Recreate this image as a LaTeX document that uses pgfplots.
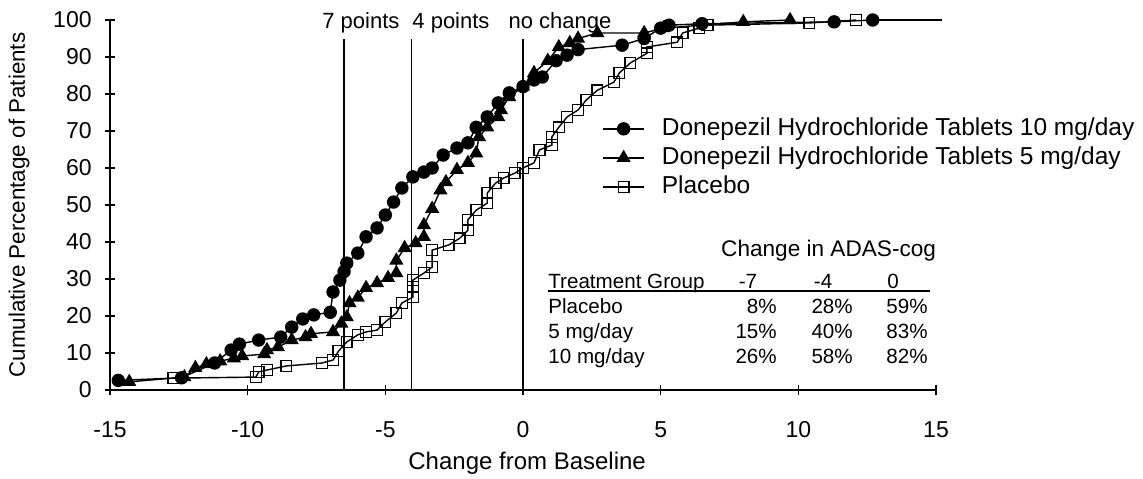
\documentclass[border=0pt]{standalone}
\usepackage{fontspec}
\setmainfont{Liberation Sans}
\usepackage{pgfplots}
\pgfplotsset{compat=1.18}

% cumulative distributions
\pgfplotstableread{
x y
-14.7 2.6
-12.4 3.3
-11.2 7.3
-10.6 10.8
-10.3 12.4
-9.6 13.5
-8.8 14.3
-8.4 17.0
-8.0 19.2
-7.6 20.3
-7.0 21.0
-6.9 26.5
-6.65 29.7
-6.5 32.0
-6.4 34.3
-6.0 37.0
-5.7 41.4
-5.3 43.8
-5.0 47.3
-4.7 50.8
-4.4 54.6
-4.0 57.6
-3.6 58.9
-3.3 60.0
-2.9 63.5
-2.4 65.4
-2.0 66.8
-1.7 71.0
-1.3 73.8
-0.9 77.6
-0.5 80.3
0.0 82.0
0.4 83.8
0.7 84.6
1.2 89.0
1.6 90.5
2.0 92.0
3.6 93.2
4.4 95.0
5.0 97.8
5.3 98.6
6.5 99.0
11.3 99.5
12.7 100
}\tenmg

\pgfplotstableread{
x y
-14.3 2.2
-12.3 3.5
-11.9 6.0
-11.5 7.0
-11.0 7.8
-10.5 8.6
-10.2 9.2
-9.4 9.7
-9.3 10.8
-8.9 11.6
-8.4 13.5
-7.9 14.3
-7.7 15.2
-6.9 15.7
-6.6 18.0
-6.4 19.7
-6.3 23.5
-6.0 25.0
-5.7 27.6
-5.3 28.9
-4.9 30.3
-4.6 31.6
-4.6 35.0
-4.3 38.4
-3.9 39.7
-3.6 41.4
-3.6 44.6
-3.3 49.0
-3.0 54.0
-2.8 56.2
-2.4 59.5
-2.0 61.4
-1.7 64.0
-1.6 68.4
-1.3 71.0
-0.9 73.8
-0.8 75.7
-0.5 79.2
0.0 82.0
0.4 85.7
0.9 89.0
1.3 92.7
1.7 93.8
2.0 95.0
2.7 96.5
4.4 96.5
5.1 97.8
8.0 99.5
9.7 100
}\fivemg

\pgfplotstableread{
x y
-12.7 3.2
-9.7 3.5
-9.6 4.9
-9.3 5.4
-8.6 6.5
-7.3 7.3
-6.9 8.1
-6.7 10.5
-6.4 13.0
-6.0 14.9
-5.7 15.7
-5.3 16.2
-5.0 18.4
-4.6 20.8
-4.4 23.5
-4.0 25.1
-4.0 27.8
-4.0 29.7
-3.6 31.6
-3.3 33.2
-3.3 37.8
-2.7 39.2
-2.3 41.0
-2.0 43.2
-2.0 46.0
-1.7 48.6
-1.3 50.5
-1.3 53.2
-1.0 55.9
-0.7 57.3
-0.3 58.6
0.0 60.0
0.4 61.4
0.6 64.9
1.05 66.2
1.05 68.4
1.3 71.0
1.6 73.8
2.0 75.7
2.3 78.4
2.7 81.0
3.3 83.2
3.5 85.7
3.9 88.4
4.5 91.0
4.5 92.7
5.6 94.0
5.8 96.5
6.4 97.8
6.7 98.6
10.4 99.2
12.1 100
}\placebo

\begin{document}
\begin{tikzpicture}
\useasboundingbox (-55pt,-44pt) rectangle (516.5pt,195pt);
\begin{axis}[
  scale only axis, width=413pt, height=185pt,
  xmin=-15, xmax=15, ymin=0, ymax=100,
  clip=false,
  axis lines*=left,
  axis line style={line width=0.8pt},
  tick align=center, major tick length=5pt,
  tick style={line width=0.8pt, black},
  xtick={-15,-10,...,15}, xticklabels={-15,-10,-5,0,5,10,15},
  ytick={0,10,...,100},
  /pgf/number format/assume math mode=true,
  xticklabel style={font=\fontsize{11.5}{12}\selectfont, anchor=base, yshift=-21pt},
  yticklabel style={font=\fontsize{11.5}{12}\selectfont, anchor=east, inner sep=0pt, xshift=-6.5pt},
  xlabel={Change from Baseline},
  xlabel style={font=\fontsize{12}{13}\selectfont, at={(axis cs:0.15,-21.4)}, anchor=base},
  ylabel={Cumulative Percentage of Patients},
  ylabel style={font=\fontsize{11.2}{12}\selectfont, at={(axis cs:-18.3,50)}, anchor=center, rotate=0},
  legend style={at={(axis cs:2.87,73.8)}, anchor=north west, draw=none, fill=none,
    inner sep=0pt, font=\fontsize{12.25}{13}\selectfont, row sep=3pt,
    nodes={inner sep=0pt, text height=9pt, text depth=2.5pt},
    /tikz/every odd column/.append style={column sep=8.5pt}},
  legend cell align=left,
  legend image code/.code={\draw[mark repeat=2, mark phase=2, #1]
    plot coordinates {(0pt,0pt) (10.25pt,0pt) (20.5pt,0pt)};},
]
\addplot[black, line width=0.7pt, mark=*, mark size=3pt] table {\tenmg};
\addlegendentry{Donepezil Hydrochloride Tablets 10 mg/day}
\addplot[black, line width=0.7pt, mark=triangle*, mark size=3.4pt] table {\fivemg};
\addlegendentry{Donepezil Hydrochloride Tablets 5 mg/day}
\addplot[black, line width=0.7pt, mark=square, mark size=2.7pt, mark options={fill=white, line width=0.7pt}] table {\placebo};
\addlegendentry{Placebo}
\addplot[black, line width=0.7pt, forget plot] coordinates {(12.7,100) (15.2,100)};

% reference lines
\draw[line width=0.8pt] (axis cs:-6.5,0) -- (axis cs:-6.5,95);
\draw[line width=0.8pt] (axis cs:-4.05,0) -- (axis cs:-4.05,95);
\draw[line width=0.8pt] (axis cs:0,0) -- (axis cs:0,95);
\node[anchor=base west, inner sep=0pt, font=\fontsize{11}{12}\selectfont] at (axis cs:-7.30,97.8) {7 points};
\node[anchor=base west, inner sep=0pt, font=\fontsize{11}{12}\selectfont] at (axis cs:-4.03,97.8) {4 points};
\node[anchor=base west, inner sep=0pt, font=\fontsize{11}{12}\selectfont] at (axis cs:-0.54,97.8) {no change};

% inset table
\node[anchor=base, inner sep=0pt, font=\fontsize{11.3}{12}\selectfont] at (axis cs:11.10,35.95) {Change in ADAS-cog};
\begin{scope}[every node/.style={inner sep=0pt, font=\fontsize{10.3}{12}\selectfont}]
\node[anchor=base west] at (axis cs:0.908,27.5) {Treatment Group};
\node[anchor=base] at (axis cs:8.17,27.5) {-7};
\node[anchor=base] at (axis cs:10.90,27.5) {-4};
\node[anchor=base] at (axis cs:13.44,27.5) {0};
\node[anchor=base west] at (axis cs:0.908,20.7) {Placebo};
\node[anchor=base east] at (axis cs:9.23,20.7) {8\%};
\node[anchor=base east] at (axis cs:11.99,20.7) {28\%};
\node[anchor=base east] at (axis cs:14.71,20.7) {59\%};
\node[anchor=base west] at (axis cs:0.908,14.0) {5 mg/day};
\node[anchor=base east] at (axis cs:9.23,14.0) {15\%};
\node[anchor=base east] at (axis cs:11.99,14.0) {40\%};
\node[anchor=base east] at (axis cs:14.71,14.0) {83\%};
\node[anchor=base west] at (axis cs:0.908,7.2) {10 mg/day};
\node[anchor=base east] at (axis cs:9.23,7.2) {26\%};
\node[anchor=base east] at (axis cs:11.99,7.2) {58\%};
\node[anchor=base east] at (axis cs:14.71,7.2) {82\%};
\end{scope}
\draw[line width=0.6pt] (axis cs:0.908,26.76) -- (axis cs:14.78,26.76);
\end{axis}
\end{tikzpicture}
\end{document}
